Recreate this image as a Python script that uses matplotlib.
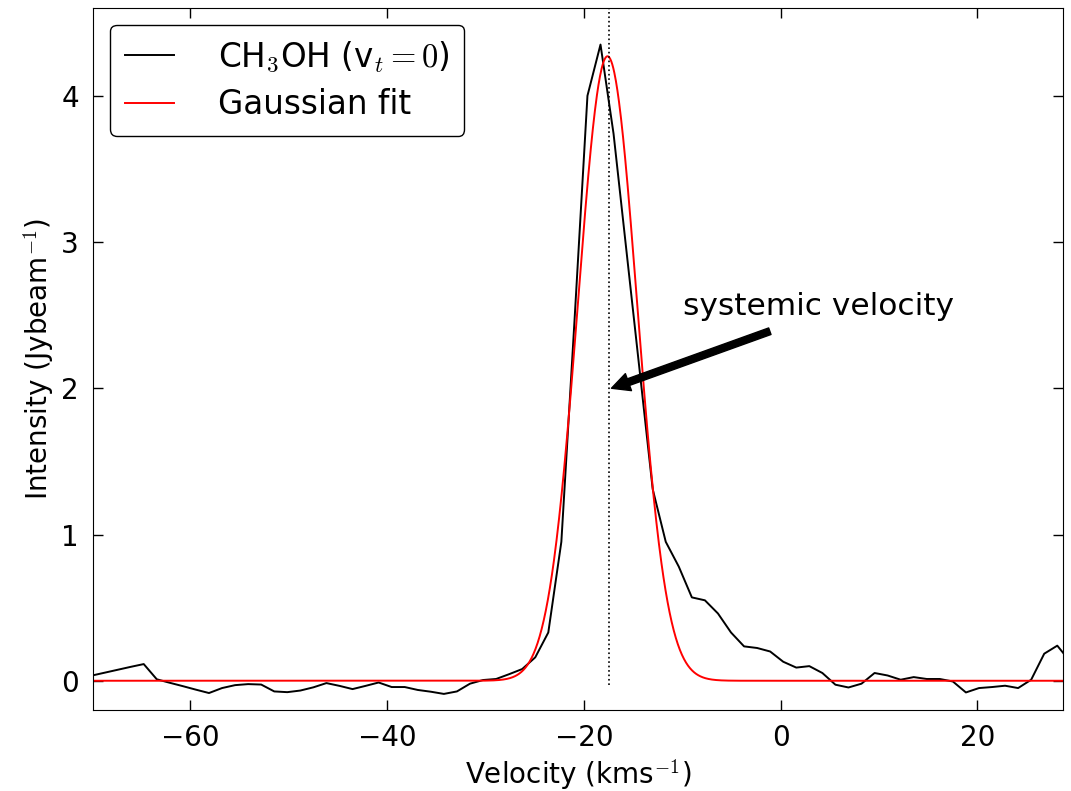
import numpy as np
import matplotlib
matplotlib.use("Agg")
import matplotlib.pyplot as plt

plt.rcParams["mathtext.fontset"] = "cm"
plt.rcParams["font.family"] = ["DejaVu Sans"]

# spectrum channels (km/s), evenly spaced
V_START = -70.05
DV = 1.3266
intensity = [0.035, 0.055, 0.075, 0.095, 0.114, 0.010, -0.014, -0.037, -0.061, -0.084,
             -0.050, -0.030, -0.023, -0.026, -0.073, -0.078, -0.067, -0.045, -0.016, -0.035,
             -0.057, -0.035, -0.012, -0.043, -0.043, -0.063, -0.075, -0.090, -0.073, -0.020,
             0.005, 0.012, 0.045, 0.080, 0.160, 0.330, 0.950, 2.450, 4.000, 4.350,
             3.740, 2.930, 2.120, 1.310, 0.950, 0.780, 0.570, 0.550, 0.460, 0.330,
             0.235, 0.224, 0.200, 0.130, 0.090, 0.100, 0.053, -0.027, -0.046, -0.020,
             0.053, 0.036, 0.007, 0.025, 0.012, 0.012, -0.005, -0.080, -0.050, -0.043,
             -0.034, -0.050, 0.007, 0.185, 0.240, 0.130]
velocity = V_START + DV * np.arange(len(intensity))

# gaussian fit parameters
fit_amp = 4.27
fit_center = -17.6
fit_sigma = 3.0
v_sys = -17.4

v_fine = np.linspace(-72, 32, 2000)
fit = fit_amp * np.exp(-0.5 * ((v_fine - fit_center) / fit_sigma) ** 2)

fig = plt.figure(figsize=(10.71, 7.91), dpi=100)
ax = fig.add_axes([93 / 1071, 1 - 710 / 791, 970 / 1071, 702 / 791])

ax.plot(velocity, intensity, color="black", lw=1.4, label=r"CH$_3$OH (v$_t=0$)")
ax.plot(v_fine, fit, color="red", lw=1.4, label="Gaussian fit")
ax.vlines(v_sys, -0.03, 4.6, colors="black", linestyles=":", lw=1.2)

ax.annotate("", xy=(-17.2, 2.0), xytext=(-1.1, 2.39),
            arrowprops=dict(facecolor="black", edgecolor="black", shrink=0,
                            width=5, headwidth=13, headlength=13))
ax.text(-9.9, 2.5, "systemic velocity", fontsize=22.5)

ax.set_xlim(-69.9, 28.7)
ax.set_ylim(-0.2, 4.6)
ax.set_xticks([-60, -40, -20, 0, 20])
ax.set_yticks([0, 1, 2, 3, 4])
ax.tick_params(direction="in", top=True, right=True, length=7, width=1,
               labelsize=20, pad=10)
ax.set_xlabel(r"Velocity (kms$^{-1}$)", fontsize=20)
ax.set_ylabel(r"Intensity (Jybeam$^{-1}$)", fontsize=20)

leg = ax.legend(loc="upper left", bbox_to_anchor=(0.0175, 0.976), borderaxespad=0,
                fontsize=23.5, fancybox=True, framealpha=1, edgecolor="black",
                handlelength=1.5, handletextpad=1.35, labelspacing=0.42, borderpad=0.45)
leg.get_frame().set_linewidth(1.0)

fig.savefig("out.png", dpi=100)
